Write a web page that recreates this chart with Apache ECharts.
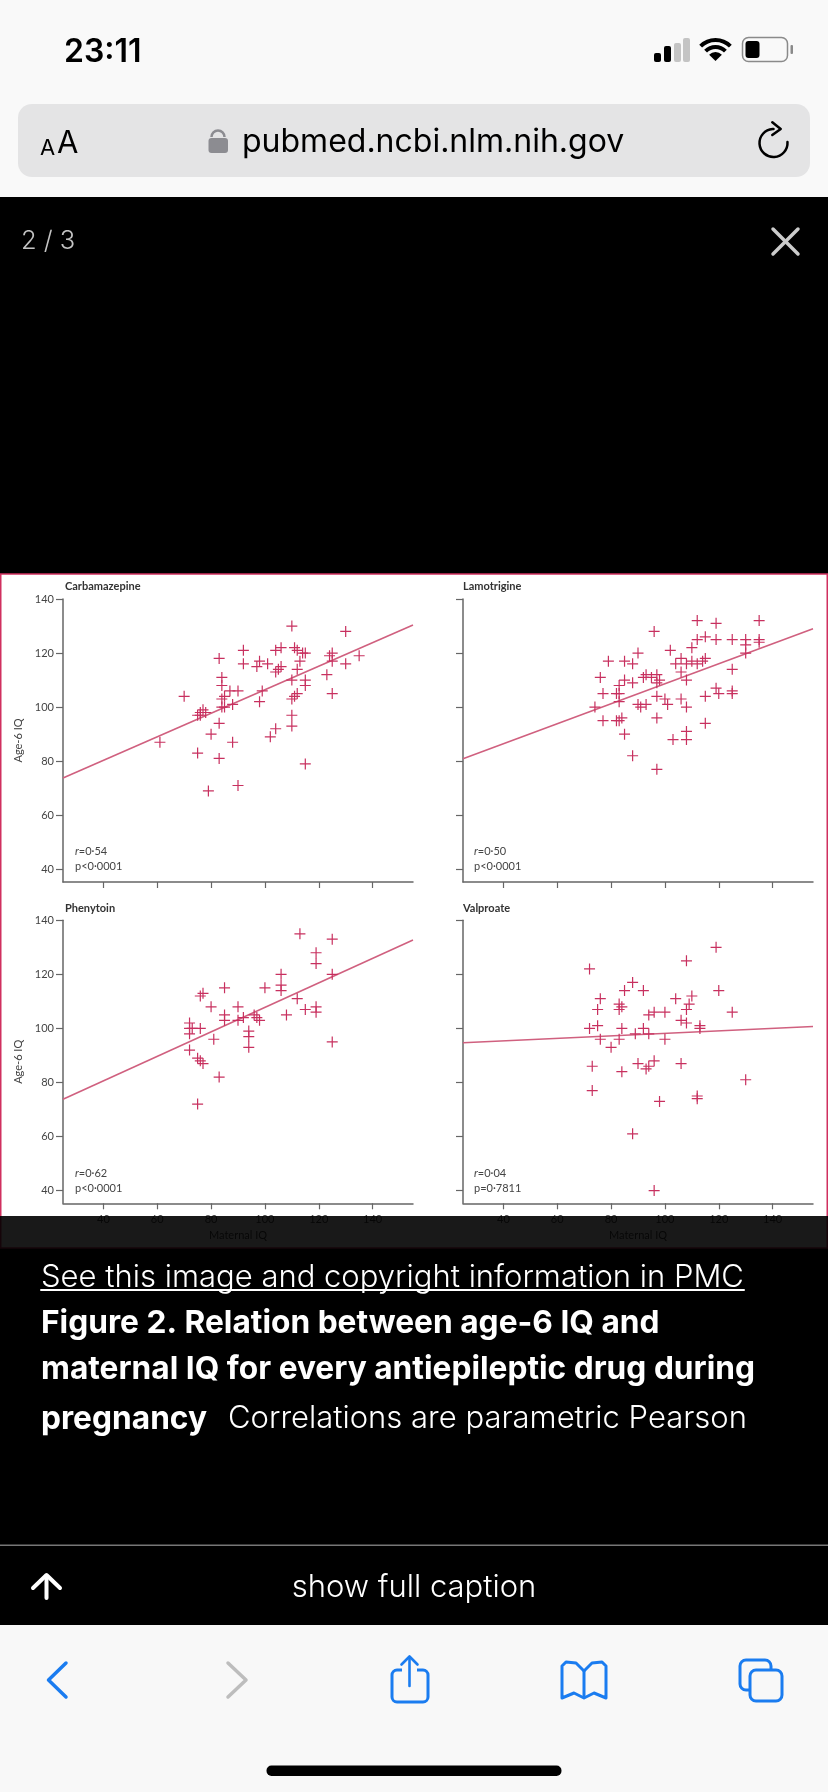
<!DOCTYPE html>
<html>
<head>
<meta charset="utf-8">
<title>Figure 2</title>
<style>
html, body { margin: 0; padding: 0; background: #000; }
#main { width: 828px; height: 1792px; }
</style>
<script src="https://cdn.jsdelivr.net/npm/echarts@6/dist/echarts.min.js"></script>
</head>
<body>
<div id="main"></div>
<script>
//数据: [maternal IQ, age-6 IQ]
var drugNames = ['Carbamazepine', 'Lamotrigine', 'Phenytoin', 'Valproate'];
var xTicks = [40, 60, 80, 100, 120, 140];
var yTicks = [40, 60, 80, 100, 120, 140];
var statLines = ['{i|r}=0·54\np<0·0001', '{i|r}=0·50\np<0·0001', '{i|r}=0·62\np<0·0001', '{i|r}=0·04\np=0·7811'];

var carbamazepinePoints = [[61,87],[70,104],[75,83],[75,97],[76,98],[77,99],[76,97],[78,98],[79,69],[80,90],[83,118],[83,94],[83,81],
  [84,111],[84,108],[84,103],[85,104],[84,100],[85,100],[87,106],[88,101],[88,87],[90,106],[90,71],[92,121],[92,116],[97,115],[98,117],
  [98,102],[101,116],[99,106],[102,89],[104,92],[104,113],[104,121],[106,122],[105,114],[106,115],[110,130],[110,110],[110,103],[111,104],
  [110,97],[110,93],[111,122],[112,121],[113,117],[112,114],[112,105],[114,120],[115,120],[115,110],[115,108],[115,79],[123,112],[125,105],
  [124,119],[125,120],[125,117],[130,128],[130,116],[135,119]];
var lamotriginePoints = [[74,100],[76,111],[77,105],[77,95],[79,117],[82,105],[82,95],[83,108],[83,105],[83,102],[83,95],[84,96],[85,117],
  [85,110],[85,90],[88,116],[88,109],[88,82],[90,120],[90,101],[91,100],[93,101],[92,111],[93,112],[96,128],[95,111],[97,112],[97,109],
  [98,110],[97,104],[97,96],[97,77],[100,103],[101,101],[102,121],[103,88],[104,116],[106,118],[106,113],[106,103],[108,116],[108,110],
  [108,100],[108,91],[108,88],[110,122],[110,117],[112,132],[112,125],[112,116],[115,126],[115,118],[114,117],[115,104],[115,94],[119,131],
  [119,125],[119,107],[120,105],[125,125],[125,114],[125,106],[125,105],[130,125],[130,123],[130,120],[135,132],[135,125],[135,124]];
var phenytoinPoints = [[72,102],[72,100],[73,100],[72,98],[72,92],[75,72],[75,89],[76,112],[77,113],[76,100],[77,87],[76,88],[80,108],
  [81,96],[83,82],[85,115],[85,105],[85,103],[90,108],[90,103],[92,104],[94,99],[94,97],[94,93],[96,105],[97,104],[98,103],[100,115],
  [106,120],[106,116],[106,114],[108,105],[112,111],[113,135],[115,107],[119,128],[119,124],[119,108],[119,106],[125,133],[125,120],[125,95]];
var valproatePoints = [[72,122],[72,100],[73,86],[73,77],[75,107],[75,101],[76,111],[76,96],[80,93],[83,109],[83,107],[84,108],[83,96],
  [84,100],[84,84],[85,114],[88,117],[88,61],[89,98],[90,87],[92,114],[92,100],[93,85],[94,86],[94,105],[94,98],[96,106],[96,88],[96,40],
  [98,73],[100,106],[100,96],[104,111],[106,103],[106,87],[108,102],[108,125],[108,107],[109,109],[110,112],[112,75],[112,74],[113,101],
  [113,100],[119,130],[120,114],[125,106],[130,81]];
var drugPoints = [carbamazepinePoints, lamotriginePoints, phenytoinPoints, valproatePoints];

//回归线两端
var carbamazepineLine = [[25,73.8],[155,130.4]];
var lamotrigineLine = [[25,80.9],[155,129]];
var phenytoinLine = [[25,73.8],[155,132.7]];
var valproateLine = [[25,94.7],[155,100.7]];
var drugLines = [carbamazepineLine, lamotrigineLine, phenytoinLine, valproateLine];

var plusSymbol = 'path://M4.9 0h1.2v11h-1.2z M0 4.9h11v1.2h-11z';
var panelFont = 'Lato, "Open Sans", sans-serif';
var uiFont = 'Inter, "Noto Sans", sans-serif';
var axisColor = '#666';
var labelColor = '#444';
var grids = [], xAxes = [], yAxes = [], series = [], titles = [];

for (var i = 0; i < drugNames.length; i++) {
    var gridLeft = i % 2 == 0 ? 63 : 463;
    var gridTop = i < 2 ? 599 : 920.3;
    var showY = i % 2 == 0;
    var showX = i >= 2;
    grids.push({ left: gridLeft, top: gridTop, width: 350, height: 283 });
    xAxes.push({
        type: 'value', gridIndex: i, min: 25, max: 155, splitLine: { show: false },
        name: showX ? 'Maternal IQ' : '', nameLocation: 'middle', nameGap: 27,
        nameTextStyle: { color: labelColor, fontFamily: panelFont, fontSize: 11 },
        axisLine: { show: true, onZero: false, lineStyle: { color: axisColor, width: 1.5 } },
        axisTick: { show: true, length: 6, customValues: xTicks, lineStyle: { color: axisColor, width: 1.2 } },
        axisLabel: { show: showX, customValues: xTicks, margin: 11, color: labelColor, fontFamily: panelFont, fontSize: 11 }
    });
    yAxes.push({
        type: 'value', gridIndex: i, min: 35.3, max: 140, splitLine: { show: false },
        name: showY ? 'Age-6 IQ' : '', nameLocation: 'middle', nameGap: 31, nameRotate: 90,
        nameTextStyle: { color: labelColor, fontFamily: panelFont, fontSize: 11, padding: [0, 0, 8, 0] },
        axisLine: { show: true, onZero: false, lineStyle: { color: axisColor, width: 1.5 } },
        axisTick: { show: true, length: 7, customValues: yTicks, lineStyle: { color: axisColor, width: 1.2 } },
        axisLabel: { show: showY, customValues: yTicks, margin: 9, color: labelColor, fontFamily: panelFont, fontSize: 11 }
    });
    series.push({
        name: drugNames[i], type: 'scatter', xAxisIndex: i, yAxisIndex: i, data: drugPoints[i],
        symbol: plusSymbol, symbolSize: 11, itemStyle: { color: '#c8305f', opacity: 1 }, z: 4
    });
    series.push({
        name: drugNames[i] + ' fit', type: 'line', xAxisIndex: i, yAxisIndex: i, data: drugLines[i],
        showSymbol: false, symbol: 'none', lineStyle: { color: '#d0607f', width: 1.6 }, z: 3
    });
    titles.push({
        text: drugNames[i], left: i % 2 == 0 ? 65 : 463, top: i < 2 ? 581 : 902.5, padding: 0,
        textStyle: { color: '#333', fontFamily: panelFont, fontSize: 11, fontWeight: 'bold' }
    });
    titles.push({
        text: statLines[i], left: i % 2 == 0 ? 75 : 474, top: i < 2 ? 844.5 : 1166.5, padding: 0,
        textStyle: {
            color: labelColor, fontFamily: panelFont, fontSize: 11, fontWeight: 'normal', lineHeight: 14.6,
            rich: { i: { fontStyle: 'italic', fontFamily: panelFont, fontSize: 11, color: labelColor, lineHeight: 14.6 } }
        }
    });
}

//页面外框元素
var uiText = function (x, y, text, size, weight, color, align) {
    return {
        type: 'text', x: x, y: y, z: 110,
        style: { text: text, fill: color, font: weight + ' ' + size + 'px ' + uiFont, textAlign: align || 'left', textVerticalAlign: 'middle' }
    };
};
var uiRect = function (x, y, w, h, r, fill, z) {
    return { type: 'rect', z: z, shape: { x: x, y: y, width: w, height: h, r: r }, style: { fill: fill } };
};
var uiStroke = function (points, color, width, z) {
    return { type: 'polyline', z: z || 110, shape: { points: points }, style: { fill: null, stroke: color, lineWidth: width, lineCap: 'round', lineJoin: 'round' } };
};
var uiBox = function (x, y, w, h, r, color, width) {
    return { type: 'rect', z: 110, shape: { x: x, y: y, width: w, height: h, r: r }, style: { fill: null, stroke: color, lineWidth: width } };
};
var blue = '#1a7cf0';

var uiElements = [
    uiRect(0, 0, 828, 197, 0, '#f9f9f9', -20),
    uiRect(0, 1625, 828, 167, 0, '#f8f8f8', -20),
    //图片区
    { type: 'rect', z: -10, shape: { x: 0.75, y: 574, width: 826.5, height: 674 }, style: { fill: '#fff', stroke: '#d0305f', lineWidth: 1.5 } },
    uiRect(0, 1216, 828, 34, 0, 'rgba(0,0,0,0.9)', 100),
    //状态栏
    uiText(64, 52, '23:11', 32, 600, '#000'),
    uiRect(654, 53, 7, 9, 2, '#000', 110),
    uiRect(664, 46, 7, 16, 2, '#000', 110),
    uiRect(674, 43, 7, 19, 2, '#c4c4c4', 110),
    uiRect(683, 38, 7, 24, 2, '#c4c4c4', 110),
    { type: 'sector', z: 110, shape: { cx: 715.5, cy: 61, r: 9, r0: 0, startAngle: Math.PI * 1.25, endAngle: Math.PI * 1.75 }, style: { fill: '#000' } },
    { type: 'arc', z: 110, shape: { cx: 715.5, cy: 61, r: 14, startAngle: Math.PI * 1.25, endAngle: Math.PI * 1.75 }, style: { fill: null, stroke: '#000', lineWidth: 4 } },
    { type: 'arc', z: 110, shape: { cx: 715.5, cy: 61, r: 21, startAngle: Math.PI * 1.25, endAngle: Math.PI * 1.75 }, style: { fill: null, stroke: '#000', lineWidth: 4 } },
    uiBox(742.5, 37.5, 45, 24, 6, '#8a8a8a', 1.5),
    uiRect(745.5, 41, 14, 17, 3, '#000', 110),
    uiRect(790.5, 45, 2.5, 9, 1, '#8a8a8a', 110),
    //地址栏
    uiRect(18, 104, 792, 73, 14, '#e4e4e5', -5),
    uiText(40, 148, 'A', 22, 400, '#000'),
    uiText(57, 144, 'A', 31, 400, '#000'),
    uiRect(208.5, 138, 19.5, 15, 3, '#8c8c91', 110),
    { type: 'arc', z: 110, shape: { cx: 218, cy: 137, r: 6.5, startAngle: Math.PI, endAngle: 0 }, style: { fill: null, stroke: '#8c8c91', lineWidth: 2.5 } },
    uiText(242, 142, 'pubmed.ncbi.nlm.nih.gov', 32, 400, '#000'),
    { type: 'arc', z: 110, shape: { cx: 773.5, cy: 143, r: 14, startAngle: -Math.PI * 0.02, endAngle: -Math.PI * 0.5 }, style: { fill: null, stroke: '#000', lineWidth: 2.5, lineCap: 'round' } },
    uiStroke([[772.3, 122.3], [780.7, 129], [772.3, 135]], '#000', 2.5),
    //图片导航
    uiText(21, 241, '2 / 3', 25.5, 300, '#c4c4c4'),
    uiStroke([[773, 229], [798, 254]], '#ccc', 3.5),
    uiStroke([[798, 229], [773, 254]], '#ccc', 3.5),
    //说明文字
    uiText(41, 1278, 'See this image and copyright information in PMC', 31, 300, '#fff'),
    uiStroke([[41, 1290], [744, 1290]], '#fff', 2),
    uiText(41, 1323, 'Figure 2. Relation between age-6 IQ and', 31.7, 700, '#fff'),
    uiText(41, 1369, 'maternal IQ for every antiepileptic drug during', 31.7, 700, '#fff'),
    uiText(41, 1419, 'pregnancy', 31.7, 700, '#fff'),
    uiText(228, 1419, 'Correlations are parametric Pearson', 31, 300, '#fff'),
    uiRect(0, 1544.5, 828, 1.5, 0, '#777', 110),
    uiStroke([[46.5, 1598], [46.5, 1576]], '#fff', 4),
    uiStroke([[33, 1588], [46.5, 1575], [60, 1588]], '#fff', 4),
    uiText(414, 1588, 'show full caption', 31, 300, '#fff', 'center'),
    //底部工具栏
    uiStroke([[66, 1663], [48.5, 1680], [66, 1697]], blue, 3.5),
    uiStroke([[228, 1663], [246, 1680], [228, 1697]], '#bdbdbd', 3.5),
    uiBox(392, 1670, 36, 32, 5, blue, 3),
    uiRect(402, 1664, 15, 12, 0, '#f8f8f8', 111),
    uiStroke([[409.5, 1657], [409.5, 1686]], blue, 2.6, 112),
    uiStroke([[401.5, 1664.5], [409.5, 1656.5], [417.5, 1664.5]], blue, 2.6, 112),
    uiStroke([[584, 1671], [584, 1697]], blue, 3),
    uiStroke([[584, 1671], [576, 1663], [566, 1662], [562, 1666], [562, 1698], [574, 1693], [584, 1698], [594, 1693], [606, 1698], [606, 1666], [602, 1662], [592, 1663], [584, 1671]], blue, 3),
    uiBox(740, 1660, 31, 30, 6, blue, 3),
    uiRect(749, 1670, 32, 30, 6, '#f8f8f8', 111),
    { type: 'rect', z: 112, shape: { x: 750, y: 1670, width: 32, height: 31, r: 6 }, style: { fill: null, stroke: blue, lineWidth: 3 } },
    uiRect(266.5, 1765.5, 295, 10.5, 5, '#000', 110)
];

var chart = echarts.init(document.getElementById('main'), null, { renderer: 'canvas' });
chart.setOption({
    backgroundColor: '#000',
    animation: false,
    title: titles,
    tooltip: { show: false },
    grid: grids,
    xAxis: xAxes,
    yAxis: yAxes,
    series: series,
    graphic: { elements: uiElements }
});
</script>
</body>
</html>
